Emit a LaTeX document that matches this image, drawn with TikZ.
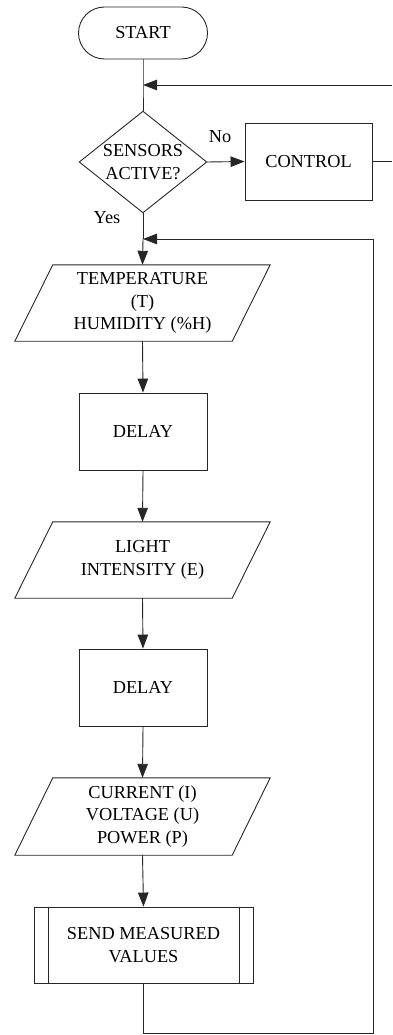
\documentclass[tikz,border=0pt]{standalone}
\usepackage{fontspec}
\setmainfont{Liberation Serif}
\usetikzlibrary{calc,arrows.meta}
\begin{document}
\begin{tikzpicture}[x=1pt,y=-1pt,
  every node/.style={font=\rmfamily\fontsize{18.3}{22.5}\selectfont, align=center, inner sep=0pt},
  ln/.style={line width=0.9pt, draw=black!85},
  arr/.style={ln, -{Triangle[length=14pt,width=10.5pt]}},
  box/.style={ln, draw, rectangle, minimum width=128pt, minimum height=77pt},
  frame/.style={rectangle, minimum width=#1, minimum height=77pt},
]
\useasboundingbox (0,0) rectangle (392,1035);

% nodes
\node[ln, draw, rectangle, rounded corners=26pt, minimum width=129pt, minimum height=52pt] (start) at (143,33) {START};
\coordinate (j1) at (143,85);
\coordinate (e1) at (392,85);
\node[minimum width=127pt, minimum height=101pt] (dec) at (143,162) {SENSORS\\ACTIVE?};
\draw[ln] (dec.north) -- (dec.east) -- (dec.south) -- (dec.west) -- cycle;
\node[box, minimum width=127pt] (ctl) at (308.5,161.5) {CONTROL};
\coordinate (e2) at (392,161.5);
\node (no) at (220,137) {No};
\node (yes) at (107,218) {Yes};
\coordinate (j2) at (143,239);

\node[frame=217pt, minimum height=76pt] (p1) at (142.5,303) {TEMPERATURE\\(T)\\HUMIDITY (\%H)};
\node[box] (d1) at (143,431.5) {DELAY};
\node[frame=217pt, minimum height=76pt] (p2) at (142.5,560) {LIGHT\\INTENSITY (E)};
\node[box] (d2) at (143,687.5) {DELAY};
\node[frame=217pt, minimum height=77pt] (p3) at (142.5,816.5) {CURRENT (I)\\VOLTAGE (U)\\POWER (P)};
\node[ln, draw, rectangle, minimum width=219pt, minimum height=76pt] (send) at (143.5,945) {SEND MEASURED\\VALUES};
\draw[ln] ($(send.north west)+(15,0)$) -- ($(send.south west)+(15,0)$);
\draw[ln] ($(send.north east)+(-14,0)$) -- ($(send.south east)+(-14,0)$);

\foreach \p in {p1,p2,p3}{
  \draw[ln] ($(\p.north west)+(19,0)$) -- ($(\p.north east)+(19,0)$) -- ($(\p.south east)+(-19,0)$) -- ($(\p.south west)+(-19,0)$) -- cycle;
}

\coordinate (b1) at (143.5,1033);
\coordinate (b2) at (373,1033);
\coordinate (r2) at (373,239);

% connectors
\draw[ln] (start.south) -- (j1) -- (dec.north);
\draw[arr] (e1) -- (j1);
\draw[arr] (dec.east) -- (ctl.west);
\draw[ln] (ctl.east) -- (e2);
\draw[ln] (dec.south) -- (j2);
\draw[arr] (j2) -- (p1.north);
\draw[arr] (p1.south) -- (d1.north);
\draw[arr] (d1.south) -- (p2.north);
\draw[arr] (p2.south) -- (d2.north);
\draw[arr] (d2.south) -- (p3.north);
\draw[arr] (p3.south) -- (send.north);
\draw[ln] (send.south) -- (b1) -- (b2) -- (r2);
\draw[arr] (r2) -- (j2);
\end{tikzpicture}
\end{document}
